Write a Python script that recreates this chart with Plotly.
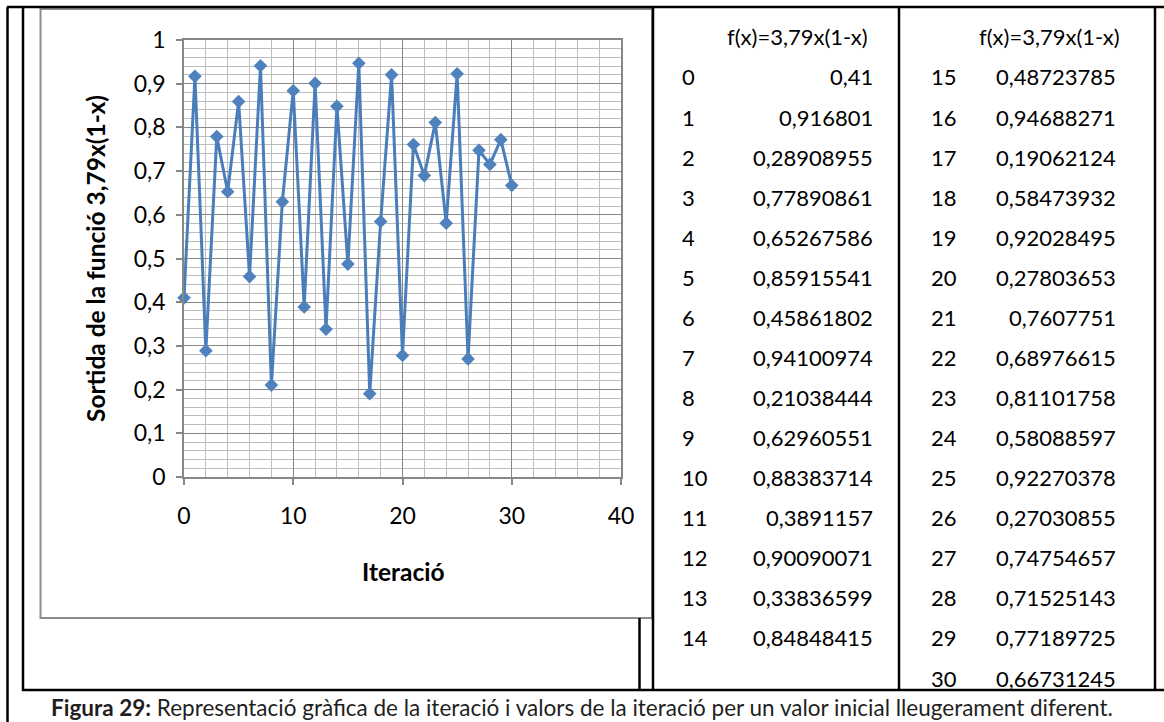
import plotly.graph_objects as go

# Figure size in pixels
W, H = 1164, 722

# Logistic iteration f(x) = 3,79x(1-x), starting from x0 = 0,41
iteracions = list(range(31))
valors = [0.41, 0.916801, 0.28908955, 0.77890861, 0.65267586, 0.85915541,
          0.45861802, 0.94100974, 0.21038444, 0.62960551, 0.88383714,
          0.3891157, 0.90090071, 0.33836599, 0.84848415, 0.48723785,
          0.94688271, 0.19062124, 0.58473932, 0.92028495, 0.27803653,
          0.7607751, 0.68976615, 0.81101758, 0.58088597, 0.92270378,
          0.27030855, 0.74754657, 0.71525143, 0.77189725, 0.66731245]

x_ticks = [0, 10, 20, 30, 40]
y_ticks = [0, 0.1, 0.2, 0.3, 0.4, 0.5, 0.6, 0.7, 0.8, 0.9, 1]
y_tick_text = ["0", "0,1", "0,2", "0,3", "0,4", "0,5", "0,6", "0,7", "0,8", "0,9", "1"]

titol_y = "Sortida de la funció 3,79x(1-x)"
titol_x = "Iteració"
capcalera = "f(x)=3,79x(1-x)"
peu = ("<b>Figura 29:</b> Representació gràfica de la iteració i valors de la "
       "iteració per un valor inicial lleugerament diferent.")

FONT = "Lato, 'Open Sans', sans-serif"


def px(x):
    return x / W


def py(y):
    return 1 - y / H


fig = go.Figure()

fig.add_trace(go.Scatter(
    x=iteracions, y=valors, mode="lines+markers",
    line=dict(color="#4A7EBB", width=3),
    marker=dict(symbol="diamond", size=10.5, color="#4F81BD",
                line=dict(width=0)),
    showlegend=False, cliponaxis=False,
))

MAJOR = "#878787"
MINOR = "#BDBDBD"

fig.update_layout(
    width=W, height=H, autosize=False,
    margin=dict(l=0, r=0, t=0, b=0, pad=0, autoexpand=False),
    paper_bgcolor="white", plot_bgcolor="white",
    font=dict(family=FONT, color="black"),
    xaxis=dict(
        domain=[px(184), px(621)], range=[0, 40], automargin=False,
        tickvals=x_ticks, ticktext=[str(v) for v in x_ticks],
        showgrid=True, gridcolor=MAJOR, gridwidth=1.3,
        minor=dict(dtick=2, showgrid=True, gridcolor=MINOR, gridwidth=1),
        showline=True, linecolor=MAJOR, linewidth=1.5, mirror=True,
        ticks="outside", ticklen=6, tickcolor=MAJOR, tickwidth=1.5,
        ticklabelstandoff=12,
        tickfont=dict(size=23, family=FONT, color="black"),
        zeroline=False, fixedrange=True,
    ),
    yaxis=dict(
        domain=[py(477), py(40)], range=[0, 1], automargin=False,
        tickvals=y_ticks, ticktext=y_tick_text,
        showgrid=True, gridcolor=MAJOR, gridwidth=1.3,
        minor=dict(dtick=0.02, showgrid=True, gridcolor=MINOR, gridwidth=1),
        showline=True, linecolor=MAJOR, linewidth=1.5, mirror=True,
        ticks="outside", ticklen=6, tickcolor=MAJOR, tickwidth=1.5,
        ticklabelstandoff=6,
        tickfont=dict(size=23, family=FONT, color="black"),
        zeroline=False, fixedrange=True,
    ),
)

# Frame lines: page borders, chart area and table cells
shapes = []


def hline(y, x0, x1, color="black", w=2.5):
    shapes.append(dict(type="line", xref="paper", yref="paper",
                       x0=px(x0), x1=px(x1), y0=py(y), y1=py(y),
                       line=dict(color=color, width=w)))


def vline(x, y0, y1, color="black", w=2.5):
    shapes.append(dict(type="line", xref="paper", yref="paper",
                       x0=px(x), x1=px(x), y0=py(y0), y1=py(y1),
                       line=dict(color=color, width=w)))


# chart area border (grey)
shapes.append(dict(type="rect", xref="paper", yref="paper",
                   x0=px(40.5), x1=px(652), y0=py(618), y1=py(9),
                   line=dict(color="#8C8C8C", width=2)))
hline(7, 7, W)
vline(7.5, 7, H)
vline(23, 7, 691)
vline(653, 7, 691)
vline(639.5, 618, 691)
vline(899, 7, 691)
vline(1155, 7, 691)
hline(690, 22, W)

annotations = []

# axis titles
annotations.append(dict(text=f"<b>{titol_y}</b>", xref="paper", yref="paper",
                        x=px(95), y=py(259), textangle=-90, showarrow=False,
                        font=dict(size=24.5, family=FONT, color="black"),
                        xanchor="center", yanchor="middle"))
annotations.append(dict(text=f"<b>{titol_x}</b>", xref="paper", yref="paper",
                        x=px(403), y=py(571), showarrow=False,
                        font=dict(size=24.5, family=FONT, color="black"),
                        xanchor="center", yanchor="middle"))

# value table (two column blocks)
TFONT = dict(size=22, family=FONT, color="black")
ROW0, ROWH = 77, 40.07
blocs = [(0, 15, 680, 875, 725), (15, 31, 929, 1118, 977)]
for i0, i1, x_idx, x_val, x_head in blocs:
    annotations.append(dict(text=capcalera, xref="paper", yref="paper",
                            x=px(x_head), y=py(37), showarrow=False,
                            xanchor="left", yanchor="middle", font=TFONT))
    for r, i in enumerate(range(i0, i1)):
        yc = py(ROW0 + r * ROWH)
        annotations.append(dict(text=str(iteracions[i]), xref="paper", yref="paper",
                                x=px(x_idx), y=yc, showarrow=False,
                                xanchor="left", yanchor="middle", font=TFONT))
        annotations.append(dict(text=str(valors[i]).replace(".", ","),
                                xref="paper", yref="paper",
                                x=px(x_val), y=yc, showarrow=False,
                                xanchor="right", yanchor="middle", font=TFONT))

# caption
annotations.append(dict(text=peu, xref="paper", yref="paper",
                        x=px(582), y=py(707), showarrow=False,
                        xanchor="center", yanchor="middle",
                        font=dict(size=22.5, family=FONT, color="#1F1F1F")))

fig.update_layout(shapes=shapes, annotations=annotations)

fig.write_html("out.html")
